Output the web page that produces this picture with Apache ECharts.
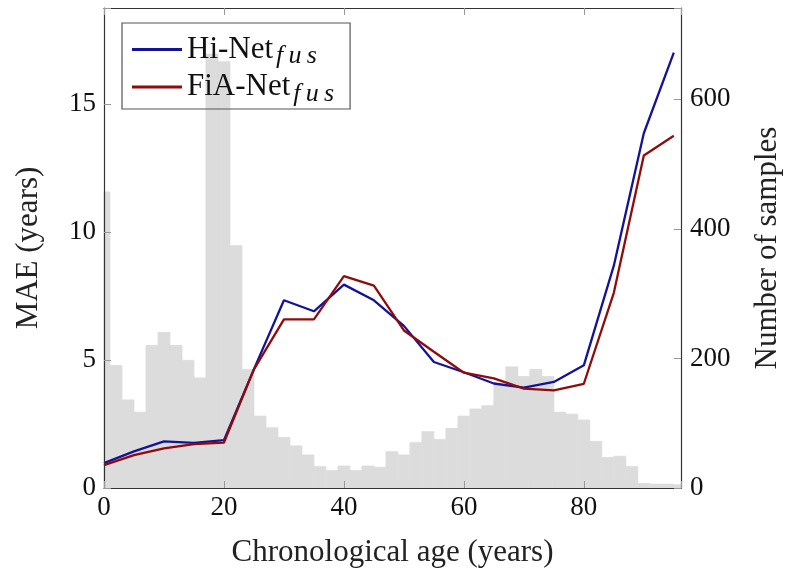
<!DOCTYPE html>
<html>
<head>
<meta charset="utf-8">
<script src="https://cdn.jsdelivr.net/npm/echarts@6/dist/echarts.min.js"></script>
<style>
  html, body { margin: 0; padding: 0; background: #fff; }
  #chart { width: 787px; height: 574px; }
</style>
</head>
<body>
<div id="chart"></div>
<script>
// ages where the MAE curves are sampled
var ages = [0, 5, 10, 15, 20, 25, 30, 35, 40, 45, 50, 55, 60, 65, 70, 75, 80, 85, 90, 95];
var hiNet = [0.97, 1.43, 1.82, 1.76, 1.87, 4.64, 7.33, 6.9, 7.94, 7.33, 6.33, 4.92, 4.52, 4.08, 3.92, 4.14, 4.79, 8.68, 13.85, 17.0];
var fiaNet = [0.89, 1.28, 1.55, 1.71, 1.77, 4.63, 6.58, 6.58, 8.27, 7.9, 6.15, 5.32, 4.5, 4.28, 3.88, 3.81, 4.07, 7.62, 12.98, 13.75];

// histogram: bin centres (width 2 years) and counts
var binCenters = [0, 2, 4, 6, 8, 10, 12, 14, 16, 18, 20, 22, 24, 26, 28, 30, 32, 34, 36, 38, 40, 42, 44, 46, 48,
                  50, 52, 54, 56, 58, 60, 62, 64, 66, 68, 70, 72, 74, 76, 78, 80, 82, 84, 86, 88, 90, 92, 94, 96];
var binCounts = [457, 189, 136, 117, 220, 240, 220, 197, 170, 670, 658, 374, 183, 111, 93, 78, 65, 51, 33, 27, 34, 27, 34, 32, 56,
                 51, 70, 87, 75, 92, 111, 122, 127, 159, 187, 172, 183, 172, 117, 114, 105, 72, 47, 49, 33, 7, 6, 6, 5];
var binWidth = 2;

var legendNames = ['Hi-Net', 'FiA-Net'];
var legendSub = 'f\u2009u\u2009s';

var serif = '"Liberation Serif", "DejaVu Serif", serif';

function pairs(xs, ys) {
  var out = [];
  for (var i = 0; i < xs.length; i++) out.push([xs[i], ys[i]]);
  return out;
}

function onlyMultiples(step) {
  return function (v) {
    return Math.abs(v / step - Math.round(v / step)) < 1e-6 ? String(v) : '';
  };
}

var frameLine = { show: true, onZero: false, lineStyle: { color: '#333', width: 1.2 } };
var tickIn = { show: true, inside: true, length: 7, lineStyle: { color: '#999' } };
var tickFont = { fontFamily: serif, fontSize: 27, color: '#111' };
var nameFont = { fontFamily: serif, fontSize: 31, color: '#222' };

var myChart = echarts.init(document.getElementById('chart'));
var option = {
  animation: false,
  grid: { left: 104, right: 106, top: 8, bottom: 86, containLabel: false, outerBoundsMode: 'none' },
  legend: {
    orient: 'vertical',
    left: 122, top: 23,
    padding: [11, 16, 2, 10],
    borderColor: '#555', borderWidth: 1.2,
    itemWidth: 50, itemHeight: 3, itemGap: 2,
    icon: 'rect',
    data: legendNames,
    formatter: function (n) { return '{n|' + n + '}{s|' + legendSub + '}'; },
    textStyle: {
      color: '#111',
      rich: {
        n: { fontFamily: serif, fontSize: 31, lineHeight: 36 },
        s: { fontFamily: serif, fontSize: 26, fontStyle: 'italic', padding: [14, 0, 0, 3] }
      }
    }
  },
  xAxis: [{
    type: 'value', min: 0, max: 96.2, interval: 20, z: 5,
    name: 'Chronological age (years)', nameLocation: 'middle', nameGap: 49,
    nameTextStyle: nameFont,
    axisLine: frameLine, axisTick: tickIn,
    axisLabel: Object.assign({ margin: 6, formatter: onlyMultiples(20) }, tickFont),
    splitLine: { show: false }
  }, {
    type: 'value', position: 'top', min: 0, max: 96.2, interval: 20, z: 5,
    axisLine: frameLine, axisTick: tickIn,
    axisLabel: { show: false },
    splitLine: { show: false }
  }],
  yAxis: [{
    type: 'value', min: 0, max: 18.74, interval: 5, z: 5,
    name: 'MAE (years)', nameLocation: 'middle', nameGap: 60,
    nameTextStyle: nameFont,
    axisLine: frameLine, axisTick: tickIn,
    axisLabel: Object.assign({ margin: 8, formatter: onlyMultiples(5) }, tickFont),
    splitLine: { show: false }
  }, {
    type: 'value', position: 'right', min: 0, max: 741, interval: 200, z: 5,
    name: 'Number of samples', nameLocation: 'middle', nameGap: 71, nameRotate: 90,
    nameTextStyle: nameFont,
    axisLine: frameLine, axisTick: tickIn,
    axisLabel: Object.assign({ margin: 9, formatter: onlyMultiples(200) }, tickFont),
    splitLine: { show: false }
  }],
  series: [{
    type: 'custom',
    name: 'samples',
    xAxisIndex: 0, yAxisIndex: 1,
    z: 1,
    data: pairs(binCenters, binCounts),
    renderItem: function (params, api) {
      var c = api.value(0), n = api.value(1);
      var p0 = api.coord([c - binWidth / 2, n]);
      var p1 = api.coord([c + binWidth / 2, 0]);
      var rect = echarts.graphic.clipRectByRect(
        { x: p0[0], y: p0[1], width: p1[0] - p0[0], height: p1[1] - p0[1] },
        { x: params.coordSys.x, y: params.coordSys.y, width: params.coordSys.width, height: params.coordSys.height }
      );
      return rect && { type: 'rect', shape: rect, style: { fill: '#dcdcdc', stroke: '#dcdcdc', lineWidth: 0.8 } };
    }
  }, {
    type: 'line', name: legendNames[0],
    xAxisIndex: 0, yAxisIndex: 0, z: 3,
    data: pairs(ages, hiNet),
    symbol: 'none',
    itemStyle: { color: '#13139a' },
    lineStyle: { color: '#13139a', width: 2.3 }
  }, {
    type: 'line', name: legendNames[1],
    xAxisIndex: 0, yAxisIndex: 0, z: 3,
    data: pairs(ages, fiaNet),
    symbol: 'none',
    itemStyle: { color: '#8e0c0c' },
    lineStyle: { color: '#8e0c0c', width: 2.3 }
  }]
};
myChart.setOption(option);
</script>
</body>
</html>
